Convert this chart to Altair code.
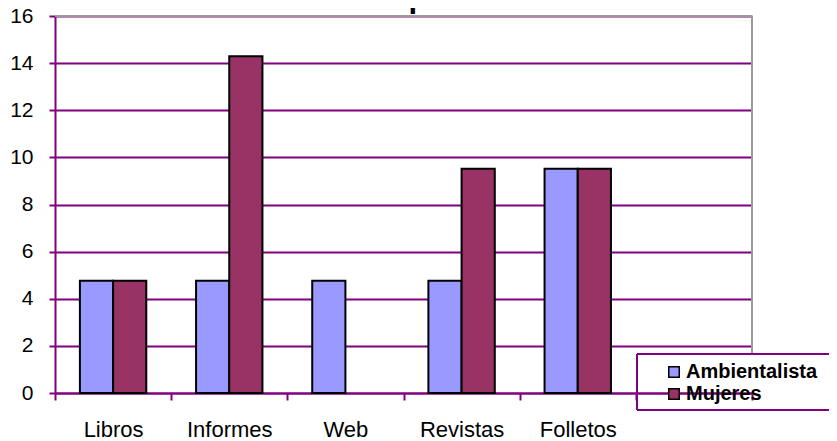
import altair as alt
import pandas as pd

# ---- data ----
categorias = ["Libros", "Informes", "Web", "Revistas", "Folletos"]
eje_x = categorias + [""]          # sixth, unlabeled slot on the axis
series = ["Ambientalista", "Mujeres"]
ambientalista = [4.76, 4.76, 4.76, 4.76, 9.52]
mujeres = [4.76, 14.29, 0.0, 9.52, 9.52]
colores = ["#9999FF", "#993366"]
y_ticks = [0, 2, 4, 6, 8, 10, 12, 14, 16]
titulo = "Grafica Num.11 Formas de publicar de Actividades"

rows = []
for c, a, m in zip(categorias, ambientalista, mujeres):
    rows.append({"cat": c, "serie": series[0], "v": a})
    rows.append({"cat": c, "serie": series[1], "v": m})
df = pd.DataFrame(rows)

W, H = 697, 377
PURPLE = "#800080"
FONT = "Liberation Sans"

bars = alt.Chart(df).transform_filter("datum.v > 0").mark_bar(
    stroke="black", strokeWidth=2
).encode(
    x=alt.X(
        "cat:N",
        sort=eje_x,
        scale=alt.Scale(domain=eje_x, paddingInner=0, paddingOuter=0),
        axis=alt.Axis(
            title=None, labelAngle=0, tickBand="extent", grid=False,
            domainColor=PURPLE, domainWidth=2, tickColor=PURPLE, tickWidth=2,
            tickSize=7, labelFontSize=22, labelFont=FONT, labelColor="black",
            labelPadding=19,
        ),
    ),
    xOffset=alt.XOffset(
        "serie:N",
        scale=alt.Scale(domain=series, paddingOuter=0.75, paddingInner=0),
    ),
    y=alt.Y(
        "v:Q",
        scale=alt.Scale(domain=[0, 16], nice=False),
        axis=alt.Axis(
            title=None, values=y_ticks, grid=True, gridColor=PURPLE, gridWidth=2,
            domainColor=PURPLE, domainWidth=2, tickColor=PURPLE, tickWidth=2,
            tickSize=6, labelFontSize=21, labelFont=FONT, labelColor="black",
            labelPadding=16,
        ),
    ),
    color=alt.Color(
        "serie:N",
        scale=alt.Scale(domain=series, range=colores),
        legend=alt.Legend(
            title=None, orient="none", legendX=589, legendY=340,
            direction="vertical", symbolType="square", symbolSize=110,
            symbolStrokeColor="black", symbolStrokeWidth=1.5,
            labelFontSize=20, labelFontWeight="bold", labelFont=FONT,
            labelColor="black", padding=6, rowPadding=2,
            symbolOffset=14, labelOffset=2, labelLimit=400,
        ),
    ),
)

frame = pd.DataFrame({"k": [0]})
GREY = "#9a9a9a"
top_rule = alt.Chart(frame).mark_rule(color=GREY, strokeWidth=2).encode(
    x=alt.value(0), x2=alt.value(W), y=alt.value(0)
)
right_rule = alt.Chart(frame).mark_rule(color=GREY, strokeWidth=2).encode(
    x=alt.value(W), y=alt.value(0), y2=alt.value(338)
)
# legend frame (open to the right edge, as in the reference)
leg_top = alt.Chart(frame).mark_rule(color=PURPLE, strokeWidth=2).encode(
    x=alt.value(582), x2=alt.value(782), y=alt.value(338)
)
leg_bottom = alt.Chart(frame).mark_rule(color=PURPLE, strokeWidth=2).encode(
    x=alt.value(582), x2=alt.value(782), y=alt.value(394)
)
leg_left = alt.Chart(frame).mark_rule(color=PURPLE, strokeWidth=2).encode(
    x=alt.value(582), y=alt.value(338), y2=alt.value(394)
)
title_mark = alt.Chart(frame).mark_text(
    text=titulo, fontSize=31, fontWeight="bold", font=FONT, color="black",
    align="center", baseline="alphabetic",
).encode(x=alt.value(327), y=alt.value(-9))

chart = alt.layer(
    bars, top_rule, right_rule, leg_top, leg_bottom, leg_left, title_mark
).properties(
    width=W,
    height=H,
    autosize=alt.AutoSizeParams(type="none"),
    padding={"left": 47, "top": 8, "right": 77, "bottom": 48},
).configure_view(stroke=None)

chart.save("out.html", embed_options={"renderer": "svg", "actions": False})
